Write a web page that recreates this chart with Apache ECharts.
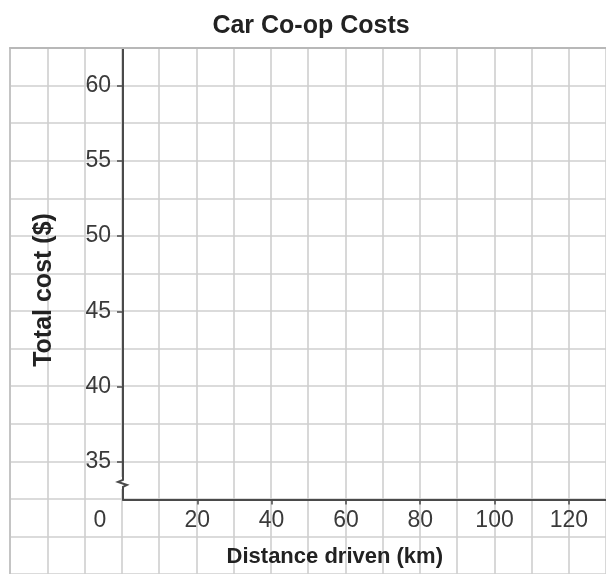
<!DOCTYPE html>
<html>
<head>
<meta charset="utf-8">
<script src="https://cdn.jsdelivr.net/npm/echarts@6/dist/echarts.min.js"></script>
<style>html,body{margin:0;padding:0;background:#fff}#c{width:606px;height:574px}</style>
</head>
<body>
<div id="c"></div>
<script>
// ---- data ----
var chartTitle = 'Car Co-op Costs';
var xAxisTitle = 'Distance driven (km)';
var yAxisTitle = 'Total cost ($)';
var xTickLabels = [0, 20, 40, 60, 80, 100, 120];
var xTickMarks = [20, 40, 60, 80, 100, 120];
var yTickLabels = [35, 40, 45, 50, 55, 60];
var costData = []; // the reference grid is blank: no plotted points

var FONT = '"Liberation Sans", Arial, Helvetica, sans-serif';
var gridColor = '#cfcfcf';
var axisColor = '#4a4a4a';
var labelColor = '#3a3a3a';

var chart = echarts.init(document.getElementById('c'), null, {renderer: 'canvas'});
var option = {
  animation: false,
  backgroundColor: '#fff',
  title: {
    text: chartTitle,
    left: 306,
    textAlign: 'center',
    top: 9,
    textStyle: {fontFamily: FONT, fontSize: 25, fontWeight: 'bold', color: '#222'}
  },
  grid: [
    {left: 10, top: 48, right: -6.3, bottom: -1.8, containLabel: false},
    {left: 123, top: 48, right: -6.3, bottom: 74.5, containLabel: false}
  ],
  xAxis: [
    {
      type: 'value', gridIndex: 0, min: -30, max: 130, interval: 10, position: 'top',
      axisLine: {show: true, onZero: false, lineStyle: {color: '#b8b8b8', width: 2}},
      axisTick: {show: false}, axisLabel: {show: false},
      splitLine: {show: true, lineStyle: {color: gridColor, width: 1.6}}
    },
    {
      type: 'value', gridIndex: 1, min: 0, max: 130,
      axisLine: {show: true, onZero: false, lineStyle: {color: axisColor, width: 2}},
      axisTick: {show: true, length: 5, lineStyle: {color: axisColor, width: 1.5}, customValues: xTickMarks},
      axisLabel: {
        show: true, margin: 10, customValues: xTickLabels,
        fontFamily: FONT, fontSize: 23, color: labelColor,
        formatter: function (v) { return v === 0 ? '{z|0}' : String(v); },
        rich: {z: {fontFamily: FONT, fontSize: 23, color: labelColor, padding: [0, 46, 0, 0]}}
      },
      splitLine: {show: false}
    }
  ],
  yAxis: [
    {
      type: 'value', gridIndex: 0, min: 27.5, max: 62.5, interval: 2.5, position: 'left',
      axisLine: {show: true, onZero: false, lineStyle: {color: '#c4c4c4', width: 2}},
      axisTick: {show: false}, axisLabel: {show: false},
      splitLine: {show: true, lineStyle: {color: gridColor, width: 1.6}}
    },
    {
      type: 'value', gridIndex: 1, min: 32.5, max: 62.5,
      axisLine: {show: true, onZero: false, lineStyle: {color: axisColor, width: 2}},
      axisTick: {show: true, length: 6, lineStyle: {color: axisColor, width: 1.5}, customValues: yTickLabels},
      axisLabel: {show: true, margin: 12, customValues: yTickLabels, fontFamily: FONT, fontSize: 23, color: labelColor},
      splitLine: {show: false}
    }
  ],
  series: [
    {type: 'line', xAxisIndex: 1, yAxisIndex: 1, data: costData, silent: true}
  ]
};
chart.setOption(option);

// axis titles and the axis-break squiggle, placed through the chart's own scales
var ax = chart.convertToPixel({gridIndex: 1}, [0, 32.5]);   // origin
var brk = chart.convertToPixel({gridIndex: 1}, [0, 33.6]);  // break position on y axis
var xMid = chart.convertToPixel({gridIndex: 1}, [57, 32.5]);
chart.setOption({
  graphic: [
    {
      type: 'rect', z: 100,
      shape: {x: ax[0] - 3, y: brk[1] - 6, width: 6, height: 12},
      style: {fill: '#fff'}
    },
    {
      type: 'polyline', z: 101,
      shape: {points: [
        [ax[0], brk[1] - 8], [ax[0], brk[1] - 3], [ax[0] - 5, brk[1] - 1],
        [ax[0] + 4, brk[1] + 2], [ax[0], brk[1] + 4], [ax[0], brk[1] + 8]
      ]},
      style: {stroke: axisColor, lineWidth: 2, fill: null}
    },
    {
      type: 'text', z: 100, x: xMid[0], y: 557,
      style: {text: xAxisTitle, font: 'bold 22px ' + FONT, fill: '#222', align: 'center', verticalAlign: 'middle'}
    },
    {
      type: 'text', z: 100, x: 44, y: 290, rotation: Math.PI / 2,
      style: {text: yAxisTitle, font: 'bold 25px ' + FONT, fill: '#222', align: 'center', verticalAlign: 'middle'}
    }
  ]
});
</script>
</body>
</html>
